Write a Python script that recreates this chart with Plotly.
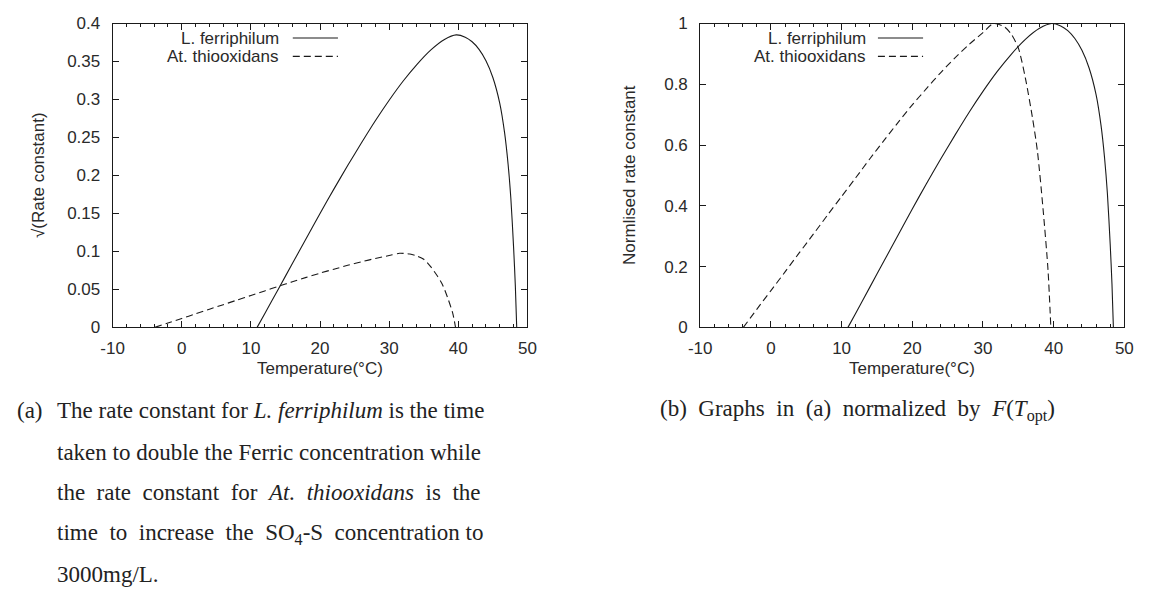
import plotly.graph_objects as go

# ---- data ----
T_ferri = [10.9, 12, 14, 16, 18, 20, 22, 24, 26, 28, 30, 32, 34, 36, 38, 39.7, 41, 42, 43, 44, 45, 46, 46.7, 47.2, 47.6, 48.0, 48.25, 48.45]
v_ferri = [0, 0.018, 0.051, 0.084, 0.117, 0.150, 0.182, 0.213, 0.243, 0.272, 0.299, 0.324, 0.346, 0.365, 0.379, 0.385, 0.382, 0.376, 0.366, 0.351, 0.329, 0.295, 0.256, 0.215, 0.170, 0.105, 0.055, 0]

T_thio = [-3.9, -2, 0, 2, 4, 6, 8, 10, 12, 14, 16, 18, 20, 22, 24, 26, 28, 30, 31.5, 33, 34, 35, 36, 37, 37.7, 38.5, 39.2, 39.6]
v_thio = [0, 0.0058, 0.0118, 0.0178, 0.0239, 0.0299, 0.036, 0.042, 0.048, 0.0541, 0.060, 0.0658, 0.0714, 0.0766, 0.0817, 0.0864, 0.0907, 0.0946, 0.0975, 0.0965, 0.0941, 0.0897, 0.080, 0.0673, 0.0566, 0.038, 0.0185, 0]

x_ticks = [-10, 0, 10, 20, 30, 40, 50]
x_ticktext = ["-10", "0", "10", "20", "30", "40", "50"]
yl_ticks = [0, 0.05, 0.1, 0.15, 0.2, 0.25, 0.3, 0.35, 0.4]
yl_ticktext = ["0", "0.05", "0.1", "0.15", "0.2", "0.25", "0.3", "0.35", "0.4"]
yr_ticks = [0, 0.2, 0.4, 0.6, 0.8, 1]
yr_ticktext = ["0", "0.2", "0.4", "0.6", "0.8", "1"]

name_ferri = "L. ferriphilum"
name_thio = "At. thiooxidans"

# normalised by the optimum value (panel b)
n_ferri = [v / max(v_ferri) for v in v_ferri]
n_thio = [v / max(v_thio) for v in v_thio]

W, H = 1152, 589
def px(x):
    return x / W
def py(y):
    return 1 - y / H

LINE = "#1a1a1a"
TXT = "#2a2a2a"
SANS = "Liberation Sans, Arial, sans-serif"
SERIF = "Liberation Serif, Times New Roman, serif"
FS = 17

fig = go.Figure()
solid = dict(color=LINE, width=1.1, shape="spline", smoothing=0.7)
dashed = dict(color=LINE, width=1.1, dash="7px,4px", shape="spline", smoothing=0.7)

fig.add_trace(go.Scatter(x=T_ferri, y=v_ferri, mode="lines", line=solid, name=name_ferri, xaxis="x", yaxis="y", showlegend=False))
fig.add_trace(go.Scatter(x=T_thio, y=v_thio, mode="lines", line=dashed, name=name_thio, xaxis="x", yaxis="y", showlegend=False))
fig.add_trace(go.Scatter(x=T_ferri, y=n_ferri, mode="lines", line=solid, name=name_ferri, xaxis="x2", yaxis="y2", showlegend=False))
fig.add_trace(go.Scatter(x=T_thio, y=n_thio, mode="lines", line=dashed, name=name_thio, xaxis="x2", yaxis="y2", showlegend=False))

common_x = dict(range=[-10, 50], tickvals=x_ticks, ticktext=x_ticktext, ticks="inside", ticklen=6,
                tickcolor=LINE, mirror="ticks", showline=True, linecolor=LINE, linewidth=1,
                showgrid=False, zeroline=False, ticklabelstandoff=5,
                tickfont=dict(family=SANS, size=FS, color=TXT),
                minor=dict(dtick=2, tick0=0, ticks="inside", ticklen=3, tickcolor=LINE, showgrid=False))
common_y = dict(ticks="inside", ticklen=6, tickcolor=LINE, mirror="ticks", showline=True, linecolor=LINE,
                linewidth=1, showgrid=False, zeroline=False, ticklabelstandoff=8,
                tickfont=dict(family=SANS, size=FS, color=TXT))

L0, L1 = px(102.5), px(525)
R0, R1 = px(701), px(1133)
B, Tp = py(329), py(15)

fig.update_layout(
    width=W, height=H, margin=dict(l=0, r=0, t=0, b=0),
    paper_bgcolor="white", plot_bgcolor="white", showlegend=False,
    xaxis=dict(domain=[L0, L1], anchor="y", **common_x),
    yaxis=dict(domain=[B, Tp], anchor="x", range=[0, 0.4], tickvals=yl_ticks, ticktext=yl_ticktext, **common_y),
    xaxis2=dict(domain=[R0, R1], anchor="y2", **common_x),
    yaxis2=dict(domain=[B, Tp], anchor="x2", range=[0, 1], tickvals=yr_ticks, ticktext=yr_ticktext, **common_y),
)

ann = []
shapes = []
def text(t, x, y, font, xanchor="center", angle=0):
    ann.append(dict(text=t, x=px(x), y=py(y), xref="paper", yref="paper", xanchor=xanchor, yanchor="middle",
                    textangle=angle, showarrow=False, font=font))

sans = dict(family=SANS, size=FS, color=TXT)
# axis titles
text("Temperature(°C)", (102.5 + 525) / 2, 371, sans)
text("Temperature(°C)", (701 + 1133) / 2, 371, sans)
text("√(Rate constant)", 27, 172, sans, angle=-90)
text("Normlised rate constant", 629, 172, sans, angle=-90)

# legends (gnuplot style: text, then sample on the right)
for tx, s0, s1 in [(274, 286, 332), (872, 882, 928)]:
    for row, (nm, dsh) in enumerate([(name_ferri, "solid"), (name_thio, "7px,4px")]):
        yy = 30 + 19 * row
        text(nm, tx, yy, sans, xanchor="right")
        shapes.append(dict(type="line", xref="paper", yref="paper", x0=px(s0), x1=px(s1), y0=py(yy), y1=py(yy),
                           line=dict(color=LINE, width=1.1, dash=dsh)))

# captions (justified look via extra non-breaking spaces)
NB = "\u00a0"
cap_font = dict(family=SERIF, size=23, color="#222")
cap_a = [
    "The rate constant for <i>L. ferriphilum</i> is the time",
    "taken to double the Ferric concentration while",
    f"the {NB}rate {NB}constant {NB}for {NB}<i>At. {NB}thiooxidans</i> {NB}is {NB}the",
    f"time {NB}to {NB}increase {NB}the {NB}SO<sub>4</sub>-S {NB}concentration to",
    "3000mg/L.",
]
cap_y = [415, 458, 500, 542, 584]
text("(a)", 3, cap_y[0], cap_font, xanchor="left")
for t, yy in zip(cap_a, cap_y):
    text(t, 44, yy, cap_font, xanchor="left")
text(f"(b) {NB}Graphs {NB}in {NB}(a) {NB}normalized {NB}by {NB}<i>F</i>(<i>T</i><sub>opt</sub>)", 658, 415,
     cap_font, xanchor="left")

fig.update_layout(annotations=ann, shapes=shapes)
fig.write_html("out.html")
